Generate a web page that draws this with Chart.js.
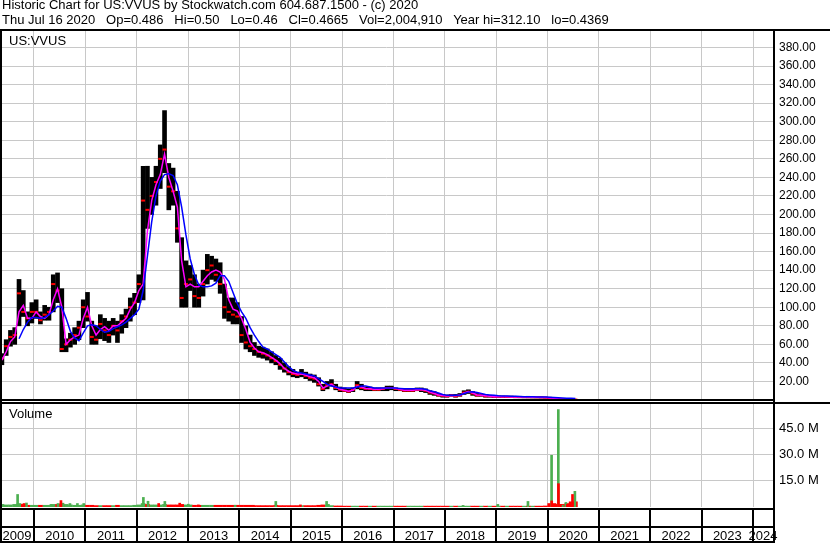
<!DOCTYPE html>
<html><head><meta charset="utf-8">
<script src="https://cdn.jsdelivr.net/npm/chart.js@4.4.1/dist/chart.umd.min.js"></script>
<style>
html,body{margin:0;padding:0;background:#fff;width:830px;height:543px;overflow:hidden;font-family:"Liberation Sans",Arial,sans-serif;}
.t{position:absolute;font-size:13px;line-height:13px;white-space:pre;color:#000;}
#c1{position:absolute;left:0;top:0;}
#c2{position:absolute;left:0;top:402px;}
</style></head>
<body>
<canvas id="c1" width="830" height="402"></canvas>
<canvas id="c2" width="830" height="141"></canvas>
<div class="t" style="left:2px;top:-2px">Historic Chart for US:VVUS by Stockwatch.com 604.687.1500 - (c) 2020</div>
<div class="t" style="left:2px;top:13px">Thu Jul 16 2020   Op=0.486   Hi=0.50   Lo=0.46   Cl=0.4665   Vol=2,004,910   Year hi=312.10   lo=0.4369</div>
<div class="t" style="left:9px;top:34px">US:VVUS</div>
<div class="t" style="left:9px;top:407px">Volume</div>
<script>
// ---- data (monthly, May 2009 .. Jul 2020) ----
const firstYear = 2009, firstMonth = 5;
const priceHigh = [
  50,65,75,78,130,118,95,105,
  108,95,102,100,135,137,120,66,72,78,85,108,
  116,85,80,92,88,85,88,85,92,98,110,115,
  135,252,252,240,252,275,312,255,250,225,175,150,
  145,135,125,140,157,155,152,148,125,110,110,105,
  90,80,70,62,58,57,55,52,48,45,40,36,
  33,30,33,30,28,27,24,17,20,22,17,14,
  13,12,13,20,17,14,14,13,13,13,15,15,
  13,12,12,12,12,13,13,12,10,9,7,6,
  5.5,6,6,7,10,11,9,7,6,6,5,4.5,
  4.5,4.3,4.2,4.2,4,4,3.8,4,3.8,3.6,3.5,3.2,
  3,2.4,1.8,1.4,1.1,0.9,0.7];
const priceLow = [
  38,48,58,60,80,90,80,83,
  88,82,86,86,95,105,52,52,57,60,65,78,
  85,60,60,66,64,62,70,62,72,78,85,92,
  105,108,185,200,210,228,245,205,210,170,100,100,
  118,100,100,112,125,130,128,115,88,85,82,82,
  62,55,52,48,46,45,43,40,38,33,30,27,
  25,24,25,23,21,19,15,10,12,15,11,9,
  9,8,9,12,11,10,10,10,10,10,10,11,
  10,10,9,9,9,10,9,8,6,5,4,3,
  3,4,3,4,6,7,5,4,4,3,3,2.5,
  2.5,2.5,2.5,2.5,2.4,2.4,2.3,2.3,2.2,2.2,2.1,2,
  1.5,1.2,0.8,0.7,0.6,0.45,0.44];
const priceClose = [
  45,58,68,70,115,95,88,95,
  95,86,92,95,125,118,55,60,65,70,78,100,
  90,68,65,82,75,70,80,75,85,90,100,105,
  125,215,205,220,235,260,270,230,225,185,110,125,
  130,112,110,125,140,145,135,125,100,95,92,90,
  70,62,58,55,52,50,48,45,42,38,34,30,
  28,27,28,26,24,23,17,12,16,17,13,11,
  10,9,11,16,13,12,12,11,11,12,13,13,
  12,11,10,10,10,11,11,10,8,7,5,4.5,
  4,5,4,5,8,9,7,5,5,4,4,3.5,
  3.5,3.4,3.4,3.3,3.2,3.1,3.1,3,3,2.9,2.8,2.6,
  2.2,1.8,1.1,1.0,0.8,0.55,0.47];
const avgShort = [
  43,52,63,68,95,102,88,88,
  95,90,88,92,108,120,100,60,65,68,70,88,
  100,80,70,76,79,75,80,80,84,88,98,105,
  118,125,182,215,232,243,265,240,225,208,150,122,
  125,122,122,128,134,138,140,138,130,108,98,96,
  88,76,62,56,52,51,49,46,43,39,34,31,
  29,28,28,27,25,24,20,13,15,17,14,11.5,
  10.5,9.5,10.5,15,14,12.5,12,11.5,11.5,12,13,13,
  12.5,11.5,10.5,10.5,10.5,11,11,10.5,8.5,7,5.5,4.8,
  4.3,4.8,4.5,5,7.5,9,7.5,5.5,5,4.5,4,3.6,
  3.5,3.5,3.4,3.3,3.3,3.2,3.1,3.1,3,2.9,2.8,2.6,
  2.2,1.8,1.3,1.0,0.8,0.6,0.5];
const avgLong = [
  null,null,null,null,66,76,84,89,
  89,88,89,92,96,101,100,88,74,67,64,72,
  80,81,80,76,73,74,77,79,81,84,88,92,
  98,118,155,192,220,236,243,244,242,232,208,178,
  152,135,124,122,122,123,126,134,134,128,116,104,
  95,88,78,70,63,57,55,52,49,46,41,36,
  32,30,29,28,27,26,23,20,17,15,14,13,
  13,13,13,14,15,15,14,13,13,13,13,13,
  13,12.5,12,12,12,12,12,11.5,10,9,7.5,6,
  5,5,5,5.5,7,8.5,9,8,7,6,5.5,5,
  4.5,4.3,4.2,4,4,3.8,3.6,3.5,3.4,3.3,3.2,3.1,
  3,2.8,2.5,2.2,2,1.8,1.6];
const volBase = [
  1.5,1.2,1.2,1.5,2,1.5,1,1,
  1,1,1,1,1.5,1.5,2,1.5,1.2,1,1,1.2,
  1,1,0.8,0.8,0.8,0.8,0.8,1,0.8,0.8,0.8,1,
  1.2,2,1.5,1.2,1.2,1.2,1.5,1.2,1.2,1.2,1.5,1.2,
  1.2,1,1,1,1,1,1,1,1,1,1,1,
  1,1,1,0.8,0.8,0.8,0.8,0.8,1,0.8,0.8,0.8,
  0.8,0.8,0.8,0.8,0.8,0.8,1,1.2,1,0.8,0.6,0.6,
  0.5,0.5,0.5,0.5,0.5,0.5,0.5,0.5,0.5,0.5,0.5,0.5,
  0.5,0.5,0.5,0.5,0.5,0.5,0.5,0.5,0.5,0.5,0.5,0.5,
  0.5,0.5,0.5,0.5,0.5,0.5,0.5,0.5,0.5,0.5,0.5,0.5,
  0.5,0.5,0.5,0.5,0.5,0.5,0.5,0.5,0.5,0.5,0.5,0.6,
  2,2,1.5,1.5,2,3,3];
// daily volume spikes (millions)
const spikeDates = ['2009-09-06','2009-10-21','2009-11-08','2010-05-01','2010-06-20','2010-07-11','2010-07-25','2010-09-13','2010-11-05','2010-12-20',
  '2012-02-17','2012-03-21','2012-06-05','2012-07-19','2012-11-02','2013-01-02','2013-03-15','2013-12-01','2014-04-10','2014-09-16',
  '2015-03-10','2015-09-12','2015-09-25','2018-05-10','2019-01-12','2019-08-14',
  '2020-01-29','2020-01-30','2020-03-17','2020-03-18','2020-04-01','2020-04-15','2020-05-10','2020-05-20','2020-06-01','2020-06-26','2020-07-13'];
const spikeVol = [7.2,2,2.3,1.5,2,3.7,2.2,2,2,2,
  5.5,3.3,2,3.2,2.2,1.6,1.2,1,1,3.2,
  1.2,3.2,1.5,0.9,1.5,3.2,
  29.7,3.5,56,13.4,1.5,1,2.6,1.5,1.5,7.2,9];
const spikeUp = [1,0,1,1,1,0,1,1,1,1,
  1,1,0,1,0,1,0,1,0,1,
  0,1,1,1,1,1,
  1,0,1,0,0,1,1,0,0,0,1];
const yearLabels = ['2009','2010','2011','2012','2013','2014','2015','2016','2017','2018','2019','2020','2021','2022','2023','2024'];
const priceTicks = [20,40,60,80,100,120,140,160,180,200,220,240,260,280,300,320,340,360,380];
const volTicks = [15,30,45];

// ---- derived helpers ----
const xMin = 2009.338, xMax = 2024.389;
const monthT = priceHigh.map((_, i) => {
  const m0 = firstMonth - 1 + i;
  return firstYear + Math.floor(m0 / 12) + ((m0 % 12) + 0.5) / 12;
});
function dateT(s) {
  const d = new Date(s + 'T12:00:00Z');
  const y = d.getUTCFullYear();
  const start = Date.UTC(y, 0, 1), end = Date.UTC(y + 1, 0, 1);
  return y + (d.getTime() - start) / (end - start);
}
const yearBounds = yearLabels.slice(1).map(Number);
const yearMid = yearLabels.map(s => { const y = Number(s); return (Math.max(y, xMin) + Math.min(y + 1, xMax)) / 2; });
const GRID = '#c8c8c8', GREEN = '#4caf50', RED = '#ff0000';
const FONT = {family: '"Liberation Sans", Arial, sans-serif', size: 13};
Chart.defaults.font = FONT;
Chart.defaults.color = '#000';

function noPad(s) { s.paddingLeft = 0; s.paddingRight = 0; s.paddingTop = 0; s.paddingBottom = 0; }

const frame1 = {id: 'frame1', afterDraw(c) {
  const g = c.ctx; g.save(); g.fillStyle = '#000';
  g.fillRect(0, 29, 830, 2);
  g.fillRect(0, 31, 2, 371);
  g.fillRect(773, 29, 2, 373);
  g.fillRect(0, 399, 775, 2);
  g.restore();
}};
const frame2 = {id: 'frame2', afterDraw(c) {
  const g = c.ctx; const xs = c.scales.x; g.save(); g.fillStyle = '#000';
  g.fillRect(0, 0, 830, 2);
  g.fillRect(0, 0, 2, 141);
  g.fillRect(773, 0, 2, 141);
  g.fillRect(0, 106, 775, 2);
  g.fillRect(0, 124, 775, 2);
  g.fillRect(0, 139, 775, 2);
  yearBounds.forEach(y => { const p = Math.round(xs.getPixelForValue(y)); g.fillRect(p - 1, 108, 2, 16); g.fillRect(p - 1, 126, 2, 13); });
  g.restore();
}};

function xScale() {
  return {type: 'linear', min: xMin, max: xMax, offset: false, bounds: 'data',
    afterBuildTicks: a => { a.ticks = yearBounds.map(v => ({value: v})); },
    grid: {color: GRID, drawTicks: false, offset: false}, border: {display: false},
    ticks: {display: false}, afterFit: s => { s.height = 0; noPad(s); }};
}

new Chart(document.getElementById('c1'), {
  type: 'line',
  data: {datasets: [
    {type: 'line', label: 'long', data: monthT.map((t, i) => ({x: t, y: avgLong[i]})), borderColor: '#0000ff', borderWidth: 1.5, pointRadius: 0, spanGaps: false, order: 0},
    {type: 'line', label: 'short', data: monthT.map((t, i) => ({x: t, y: avgShort[i]})), borderColor: '#ff00ff', borderWidth: 1.5, pointRadius: 0, order: 1},
    {type: 'line', label: 'close', data: monthT.map((t, i) => ({x: t, y: priceClose[i]})), showLine: false, pointStyle: 'line', pointRadius: 2, pointBorderWidth: 2, pointBorderColor: RED, pointBackgroundColor: RED, order: 2},
    {type: 'bar', label: 'range', data: monthT.map((t, i) => ({x: t, y: [priceLow[i], priceHigh[i]]})), backgroundColor: '#000', barThickness: 4, grouped: false, order: 3}
  ]},
  options: {
    responsive: false, animation: false, devicePixelRatio: 1,
    layout: {padding: {left: 0, right: 0, top: 31, bottom: 2}, autoPadding: false},
    plugins: {legend: {display: false}, tooltip: {enabled: false}},
    scales: {
      x: xScale(),
      y: {type: 'linear', position: 'right', min: 0, max: 397.8,
        afterBuildTicks: a => { a.ticks = priceTicks.map(v => ({value: v})); },
        afterFit: s => { s.width = 57; noPad(s); },
        grid: {color: GRID, drawTicks: false}, border: {display: false},
        ticks: {padding: 6, color: '#000', font: {size: 12}, callback: v => Number(v).toFixed(2)}}
    }
  },
  plugins: [frame1]
});

const volUpData = [], volDnData = [];
monthT.forEach((t, i) => {
  const up = i === 0 || priceClose[i] >= priceClose[i - 1];
  (up ? volUpData : volDnData).push({x: t, y: volBase[i]});
});
const spikeG = [], spikeR = [];
spikeDates.forEach((d, i) => { (spikeUp[i] ? spikeG : spikeR).push({x: dateT(d), y: spikeVol[i]}); });

new Chart(document.getElementById('c2'), {
  type: 'line',
  data: {datasets: [
    {type: 'bar', data: volUpData, backgroundColor: GREEN, barThickness: 4, grouped: false, order: 4},
    {type: 'bar', data: volDnData, backgroundColor: RED, barThickness: 4, grouped: false, order: 3},
    {type: 'bar', data: spikeG, backgroundColor: GREEN, barThickness: 2, grouped: false, order: 2},
    {type: 'bar', data: spikeR, backgroundColor: RED, barThickness: 2, grouped: false, order: 1}
  ]},
  options: {
    responsive: false, animation: false, devicePixelRatio: 1,
    layout: {padding: {left: 0, right: 0, top: 2, bottom: 0}, autoPadding: false},
    plugins: {legend: {display: false}, tooltip: {enabled: false}},
    scales: {
      x: xScale(),
      xl: {type: 'linear', position: 'bottom', min: xMin, max: xMax, offset: false, bounds: 'data',
        afterBuildTicks: a => { a.ticks = yearMid.map(v => ({value: v})); },
        afterFit: s => { s.height = 36; noPad(s); },
        grid: {display: false, drawTicks: false, offset: false}, border: {display: false},
        ticks: {autoSkip: false, maxRotation: 0, padding: 22, color: '#000',
          callback: (v, i) => yearLabels[i]}},
      y: {type: 'linear', position: 'right', min: 0, max: 59.2,
        afterBuildTicks: a => { a.ticks = volTicks.map(v => ({value: v})); },
        afterFit: s => { s.width = 57; noPad(s); },
        grid: {color: GRID, drawTicks: false}, border: {display: false},
        ticks: {padding: 6, color: '#000', callback: v => Number(v).toFixed(1) + ' M'}}
    }
  },
  plugins: [frame2]
});
</script>
</body></html>
